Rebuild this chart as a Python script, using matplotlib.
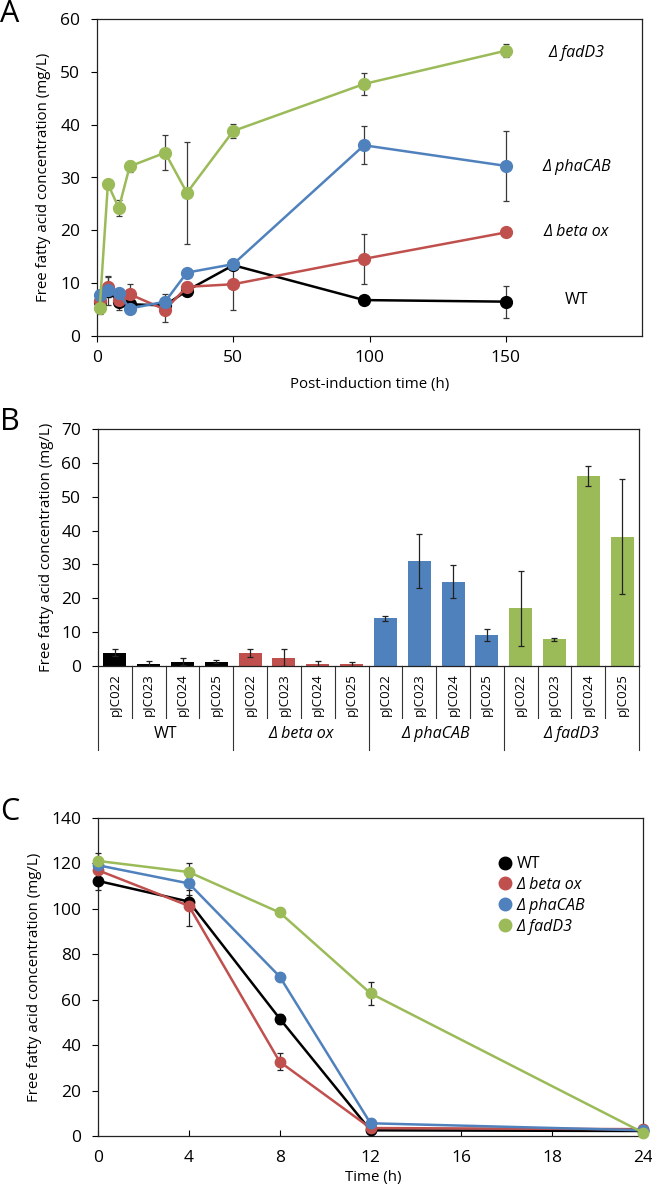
import matplotlib
matplotlib.use("Agg")
import matplotlib.pyplot as plt
import matplotlib.transforms as mtransforms
from matplotlib.lines import Line2D

plt.rcParams['font.family'] = ['Open Sans', 'DejaVu Sans']

# ---------------- Data ----------------
strains = ["WT", "Δ beta ox", "Δ phaCAB", "Δ fadD3"]
colors = ["#000000", "#C0504D", "#4F81BD", "#9BBB59"]

# Panel A
time_a = [1, 4, 8, 12, 25, 33, 50, 98, 150]
a_wt = [6.5, 8.5, 6.5, 6.0, 5.8, 8.6, 13.4, 6.8, 6.5]
a_wt_err = [2.3, 2.6, 1.5, 1.0, 1.0, 1.0, 0.8, 0.5, 3.0]
a_beta = [6.6, 9.3, 6.9, 7.9, 5.0, 9.3, 9.8, 14.6, 19.6]
a_beta_err = [1.0, 2.0, 1.0, 2.0, 2.4, 1.0, 4.8, 4.7, 0.3]
a_pha = [7.7, 8.8, 8.1, 5.2, 6.5, 12.0, 13.6, 36.1, 32.2]
a_pha_err = [0.5, 1.5, 0.5, 0.5, 1.5, 0.5, 0.5, 3.6, 6.6]
a_fad = [5.3, 28.8, 24.2, 32.1, 34.7, 27.1, 38.8, 47.7, 54.0]
a_fad_err = [1.0, 0.3, 1.5, 1.0, 3.3, 9.6, 1.3, 2.0, 1.2]

# Panel B
plasmids = ["pJC022", "pJC023", "pJC024", "pJC025"]
b_wt = [3.9, 0.6, 1.3, 1.3]
b_wt_err = [1.0, 1.0, 1.0, 0.4]
b_beta = [3.8, 2.5, 0.5, 0.5]
b_beta_err = [1.1, 2.5, 1.0, 0.6]
b_pha = [14.1, 31.0, 24.9, 9.1]
b_pha_err = [0.8, 7.9, 4.9, 1.7]
b_fad = [17.1, 7.9, 56.2, 38.2]
b_fad_err = [11.1, 0.5, 2.9, 16.9]

# Panel C
time_c_labels = ["0", "4", "8", "12", "16", "18", "24"]
time_c_data = ["0", "4", "8", "12", "24"]
c_wt = [112.3, 103.2, 51.7, 2.5, 2.2]
c_wt_err = [4.0, 3.0, 2.2, 0.5, 0.5]
c_beta = [117.0, 101.3, 32.7, 3.5, 3.0]
c_beta_err = [1.0, 9.0, 3.8, 0.5, 0.5]
c_pha = [119.2, 111.2, 70.2, 5.6, 2.5]
c_pha_err = [1.0, 3.0, 1.0, 0.5, 0.5]
c_fad = [121.1, 116.2, 98.4, 62.8, 1.5]
c_fad_err = [3.5, 4.0, 1.0, 5.2, 0.5]

# ---------------- Figure ----------------
fig = plt.figure(figsize=(6.52, 11.91), dpi=100)
W, H = 652, 1191

def ax_at(l, t, r, b):
    return fig.add_axes([l / W, 1 - b / H, (r - l) / W, (b - t) / H])

tick_fs = 12.5
label_fs = 10.8

# ---------------- Panel A ----------------
axA = ax_at(97, 19, 642, 336)
a_series = [(a_wt, a_wt_err), (a_beta, a_beta_err), (a_pha, a_pha_err), (a_fad, a_fad_err)]
for (vals, errs), c in zip(a_series, colors):
    axA.errorbar(time_a, vals, yerr=errs, color=c, ecolor="#3a3a3a", elinewidth=0.9,
                 capsize=2.5, capthick=0.9, lw=1.8, marker="o", markersize=8.5,
                 clip_on=False, zorder=3)
axA.set_xlim(0, 200)
axA.set_ylim(0, 60)
axA.set_xticks([0, 50, 100, 150])
axA.set_yticks(range(0, 61, 10))
axA.tick_params(labelsize=tick_fs, direction="out", length=4, width=0.8, pad=6)
axA.tick_params(axis="y", pad=8)
axA.set_xlabel("Post-induction time (h)", fontsize=label_fs, labelpad=8)
axA.set_ylabel("Free fatty acid concentration (mg/L)", fontsize=label_fs, labelpad=7)
for lbl, yv, it in [("Δ fadD3", 53.6, True), ("Δ phaCAB", 32.0, True),
                    ("Δ beta ox", 19.7, True), ("WT", 6.8, False)]:
    axA.text(176, yv, lbl, fontsize=11.5, style="italic" if it else "normal",
             ha="center", va="center")

# ---------------- Panel B ----------------
axB = ax_at(98, 429, 639, 666)
b_groups = [(b_wt, b_wt_err), (b_beta, b_beta_err), (b_pha, b_pha_err), (b_fad, b_fad_err)]
pos = 0
for (vals, errs), c in zip(b_groups, colors):
    xs = list(range(pos, pos + len(vals)))
    axB.bar(xs, vals, width=0.68, color=c, zorder=2)
    axB.errorbar(xs, vals, yerr=errs, fmt="none", ecolor="#222222", elinewidth=0.9,
                 capsize=2.5, capthick=0.9, zorder=3)
    pos += len(vals)
nb = pos
axB.set_xlim(-0.5, nb - 0.5)
axB.set_ylim(0, 70)
axB.set_yticks(range(0, 71, 10))
axB.set_xticks([])
axB.tick_params(axis="y", labelsize=tick_fs, direction="out", length=4, width=0.8, pad=8)
axB.set_ylabel("Free fatty acid concentration (mg/L)", fontsize=label_fs, labelpad=5)
trB = mtransforms.blended_transform_factory(axB.transData, axB.transAxes)
for i in range(nb):
    axB.text(i, -0.03, plasmids[i % 4], rotation=90, ha="center", va="top",
             fontsize=9.5, transform=trB)
for i in range(nb + 1):
    xb = i - 0.5
    long = (i % 4 == 0)
    axB.plot([xb, xb], [0, -0.354 if long else -0.219], color="#333333", lw=0.8,
             transform=trB, clip_on=False)
for g, name in enumerate(strains):
    axB.text(g * 4 + 1.5, -0.287, name, ha="center", va="center", fontsize=11.5,
             style="normal" if g == 0 else "italic", transform=trB)

# ---------------- Panel C ----------------
axC = ax_at(98, 818, 643, 1136)
xc = [time_c_labels.index(t) for t in time_c_data]
c_series = [(c_wt, c_wt_err), (c_beta, c_beta_err), (c_pha, c_pha_err), (c_fad, c_fad_err)]
for (vals, errs), c in zip(c_series, colors):
    axC.errorbar(xc, vals, yerr=errs, color=c, ecolor="#222222", elinewidth=0.9,
                 capsize=2.5, capthick=0.9, lw=1.8, marker="o", markersize=7.5,
                 clip_on=False, zorder=3)
axC.set_xlim(0, len(time_c_labels) - 1)
axC.set_ylim(0, 140)
axC.set_xticks(range(len(time_c_labels)))
axC.set_xticklabels(time_c_labels)
axC.set_yticks(range(0, 141, 20))
axC.tick_params(axis="x", labelsize=tick_fs, direction="in", length=4, width=0.8, pad=10)
axC.tick_params(axis="y", labelsize=tick_fs, direction="out", length=4, width=0.8, pad=8)
fig.text(373 / W, 1 - 1178 / H, "Time (h)", fontsize=label_fs, ha="center", va="center")
axC.set_ylabel("Free fatty acid concentration (mg/L)", fontsize=label_fs, labelpad=7)
leg_handles = [Line2D([], [], ls="none", marker="o", markersize=9, color=c) for c in colors]
leg = axC.legend(leg_handles, strains, loc="upper left", bbox_to_anchor=(0.705, 0.925),
                 frameon=False, fontsize=11.5, handletextpad=0.25, labelspacing=0.3,
                 handlelength=1.0)
for i, t in enumerate(leg.get_texts()):
    if i > 0:
        t.set_style("italic")

for ax in (axA, axB, axC):
    for s in ax.spines.values():
        s.set_linewidth(0.9)
        s.set_color("#222222")

# Panel letters
fig.text(0 / W, 1 - 14 / H, "A", fontsize=22, va="center", ha="left")
fig.text(0 / W, 1 - 422 / H, "B", fontsize=22, va="center", ha="left")
fig.text(0 / W, 1 - 812 / H, "C", fontsize=22, va="center", ha="left")

fig.savefig("out.png", dpi=100)
